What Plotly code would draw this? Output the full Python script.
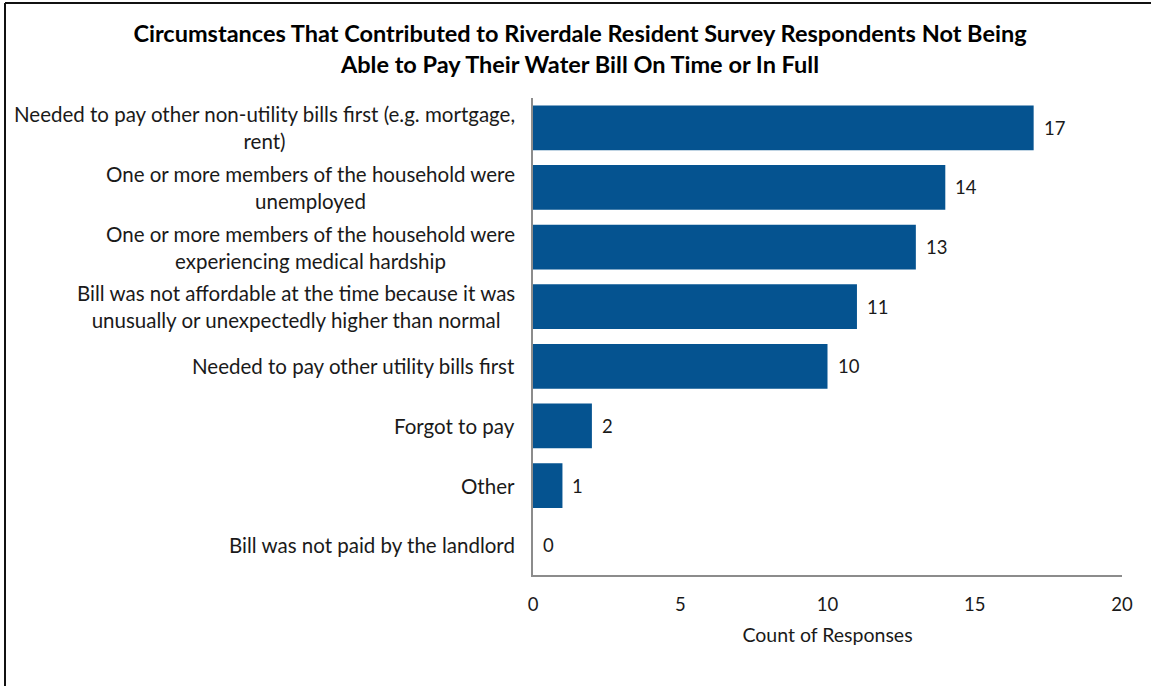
import plotly.graph_objects as go

# Survey categories, top to bottom
categories = [
    "Needed to pay other non-utility bills first (e.g. mortgage,<br>rent)",
    "One or more members of the household were<br>unemployed",
    "One or more members of the household were<br>experiencing medical hardship",
    "Bill was not affordable at the time because it was<br>unusually or unexpectedly higher than normal",
    "Needed to pay other utility bills first",
    "Forgot to pay",
    "Other",
    "Bill was not paid by the landlord",
]
counts = [17, 14, 13, 11, 10, 2, 1, 0]
x_ticks = [0, 5, 10, 15, 20]

FONT = "Lato"
BAR_COLOR = "#055390"
TEXT_COLOR = "#1a1a1a"

# Plot-area margins (px) for a 1151x686 canvas
W, H = 1151, 686
ML, MR, MT, MB = 533, 29, 98, 111
PW, PH = W - ML - MR, H - MT - MB


def px_to_paper_x(px):
    return (px - ML) / PW


def px_to_paper_y(py):
    return (H - MB - py) / PH


fig = go.Figure(
    go.Bar(
        x=counts,
        y=categories,
        orientation="h",
        marker=dict(color=BAR_COLOR, line=dict(width=0)),
        hoverinfo="skip",
    )
)

annotations = []
# Category labels, centred line-by-line and right-aligned to the axis
for cat in categories:
    annotations.append(dict(
        x=0, xref="paper", y=cat, yref="y",
        text=cat, showarrow=False,
        xanchor="right", yanchor="middle", align="center",
        xshift=-16,
        font=dict(family=FONT, size=20.5, color=TEXT_COLOR),
    ))
# Value labels just past each bar end
for cat, v in zip(categories, counts):
    annotations.append(dict(
        x=v, xref="x", y=cat, yref="y",
        text=str(v), showarrow=False,
        xanchor="left", yanchor="middle",
        xshift=8,
        font=dict(family=FONT, size=18.5, color=TEXT_COLOR),
    ))

# Outer frame (left and top edges)
bx = px_to_paper_x(5)
ty = px_to_paper_y(3)
by = px_to_paper_y(H)
rx = px_to_paper_x(W)
shapes = [
    dict(type="line", xref="paper", yref="paper", x0=bx, x1=bx, y0=by, y1=ty,
         line=dict(color="#111111", width=2)),
    dict(type="line", xref="paper", yref="paper", x0=bx, x1=rx, y0=ty, y1=ty,
         line=dict(color="#111111", width=2)),
]

fig.update_layout(
    width=W, height=H,
    margin=dict(l=ML, r=MR, t=MT, b=MB, pad=0),
    paper_bgcolor="white", plot_bgcolor="white",
    bargap=0.25,
    showlegend=False,
    title=dict(
        text="<b>Circumstances That Contributed to Riverdale Resident Survey Respondents Not Being<br>Able to Pay Their Water Bill On Time or In Full</b>",
        x=580 / W, xref="container", xanchor="center",
        y=1 - 42 / H, yref="container", yanchor="middle",
        font=dict(family=FONT, size=23.5, color="#000000"),
    ),
    xaxis=dict(
        range=[0, 20], tickvals=x_ticks, ticks="", showgrid=False, zeroline=False,
        showline=True, linecolor="#8c8c8c", linewidth=1.5,
        ticklabelstandoff=12,
        tickfont=dict(family=FONT, size=18.5, color=TEXT_COLOR),
        title=dict(text="Count of Responses", standoff=14,
                   font=dict(family=FONT, size=19.5, color=TEXT_COLOR)),
        fixedrange=True,
    ),
    yaxis=dict(
        autorange="reversed", showticklabels=False, ticks="", showgrid=False,
        zeroline=False, showline=True, linecolor="#8c8c8c", linewidth=1.5,
        fixedrange=True,
    ),
    annotations=annotations,
    shapes=shapes,
)

fig.write_html("out.html")
